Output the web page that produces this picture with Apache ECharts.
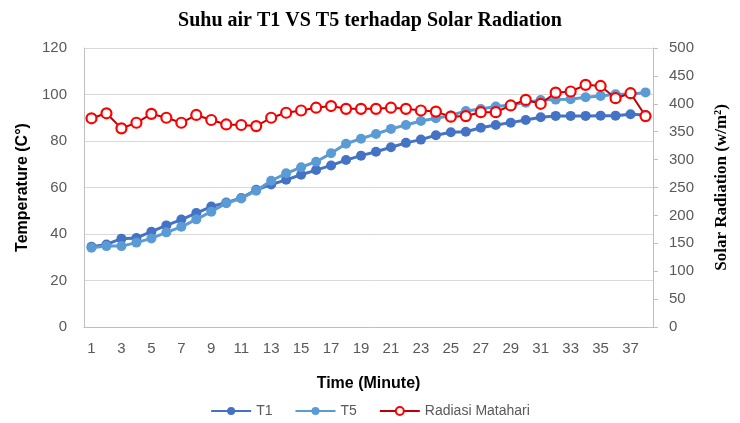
<!DOCTYPE html>
<html>
<head>
<meta charset="utf-8">
<script src="https://cdn.jsdelivr.net/npm/echarts@6/dist/echarts.min.js"></script>
<style>
html,body{margin:0;padding:0;background:#fff;}
#c{width:740px;height:423px;}
</style>
</head>
<body>
<div id="c"></div>
<script>
const categories = ['1','2','3','4','5','6','7','8','9','10','11','12','13','14','15','16','17','18','19','20','21','22','23','24','25','26','27','28','29','30','31','32','33','34','35','36','37','38'];
const t1 = [34.5,35.5,38.0,38.3,41.0,43.7,46.2,49.0,51.8,53.5,55.5,59.0,61.3,63.3,65.5,67.5,69.5,71.8,73.7,75.4,77.3,79.2,80.6,82.5,83.8,84.0,85.7,86.9,87.9,89.0,90.2,90.8,90.8,90.8,90.9,90.9,91.5,91.2];
const t5 = [34.1,34.8,34.8,36.3,38.1,40.7,43.1,46.3,49.6,53.2,55.3,58.6,62.9,66.1,68.7,71.1,74.7,78.8,81.0,83.0,85.2,86.9,88.6,89.8,91.0,92.9,93.8,94.8,95.5,96.5,97.6,97.8,98.0,98.8,99.4,100.1,100.1,100.9];
const radiasi = [374,383,356,366,382,375,366,380,371,363,362,360,375,384,388,393,396,391,391,391,393,391,388,386,377,378,385,385,397,407,400,420,422,434,432,410,419,378];
const leftTicks = {min:0, max:120, interval:20};
const rightTicks = {min:0, max:500, interval:50};

const chart = echarts.init(document.getElementById('c'), null, {renderer:'canvas'});
const tickFont = {color:'#595959', fontSize:15, fontFamily:'Liberation Sans, Arial, sans-serif'};
chart.setOption({
  animation:false,
  backgroundColor:'#fff',
  title:{
    text:'Suhu air T1 VS T5 terhadap Solar Radiation',
    left:'center', top:6,
    textStyle:{fontFamily:'Liberation Serif, Times New Roman, serif', fontWeight:'bold', fontSize:20, color:'#000'}
  },
  legend:{
    bottom:0, left:'center',
    itemWidth:40, itemHeight:10, itemGap:22,
    textStyle:{color:'#595959', fontSize:14, fontFamily:'Liberation Sans, Arial, sans-serif'},
    data:['T1','T5','Radiasi Matahari']
  },
  grid:{left:84, right:87, top:48, bottom:96},
  xAxis:{
    type:'category', data:categories, boundaryGap:true,
    name:'Time (Minute)', nameLocation:'middle', nameGap:49,
    nameTextStyle:{fontFamily:'Liberation Sans, Arial, sans-serif', fontWeight:'bold', fontSize:16, color:'#000'},
    axisLine:{lineStyle:{color:'#bfbfbf', width:1}},
    axisTick:{show:false},
    axisLabel:Object.assign({interval:1, margin:14}, tickFont),
    splitLine:{show:false}
  },
  yAxis:[{
    type:'value', min:leftTicks.min, max:leftTicks.max, interval:leftTicks.interval,
    name:'Temperature (C°)', nameLocation:'middle', nameGap:51,
    nameTextStyle:{fontFamily:'Liberation Sans, Arial, sans-serif', fontWeight:'bold', fontSize:16, color:'#000'},
    axisLine:{show:true, lineStyle:{color:'#bfbfbf'}},
    axisTick:{show:false},
    axisLabel:Object.assign({margin:17}, tickFont),
    splitLine:{show:true, lineStyle:{color:'#d9d9d9', width:1}}
  },{
    type:'value', min:rightTicks.min, max:rightTicks.max, interval:rightTicks.interval,
    position:'right',
    name:'Solar Radiation (w/m²)', nameLocation:'middle', nameGap:60,
    nameTextStyle:{fontFamily:'Liberation Serif, Times New Roman, serif', fontWeight:'bold', fontSize:17, color:'#000'},
    axisLine:{show:true, lineStyle:{color:'#bfbfbf'}},
    axisTick:{show:true, length:5, lineStyle:{color:'#bfbfbf'}},
    axisLabel:Object.assign({margin:16}, tickFont),
    splitLine:{show:false}
  }],
  series:[{
    name:'T1', type:'line', yAxisIndex:0, data:t1,
    symbol:'circle', symbolSize:10, showAllSymbol:true,
    lineStyle:{color:'#4472C4', width:3},
    itemStyle:{color:'#4472C4'}, z:2
  },{
    name:'T5', type:'line', yAxisIndex:0, data:t5,
    symbol:'circle', symbolSize:10, showAllSymbol:true,
    lineStyle:{color:'#5B9BD5', width:3},
    itemStyle:{color:'#5B9BD5'}, z:3
  },{
    name:'Radiasi Matahari', type:'line', yAxisIndex:1, data:radiasi,
    symbol:'circle', symbolSize:10, showAllSymbol:true,
    lineStyle:{color:'#C00000', width:2},
    itemStyle:{color:'#ffffff', borderColor:'#FF0000', borderWidth:2.2}, z:4
  }]
});
</script>
</body>
</html>
